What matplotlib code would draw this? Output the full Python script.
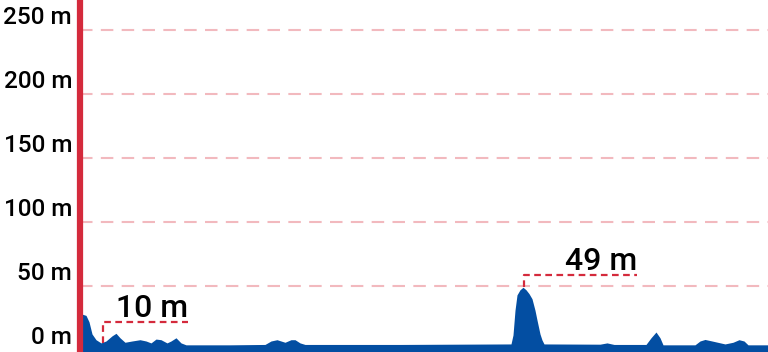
import matplotlib.pyplot as plt
from matplotlib import transforms

# elevation profile (distance in km, elevation in m)
distance = [0.0, 0.1, 0.3, 0.45, 0.6, 0.8, 1.05, 1.3, 1.6, 1.8, 2.0, 2.25, 2.6, 3.0,
            3.3, 3.55, 3.8, 4.05, 4.35, 4.55, 4.8, 5.05, 5.3, 7.5, 9.25, 9.55, 9.85,
            10.25, 10.55, 10.75, 11.0, 11.25, 16.0, 21.55, 21.65, 21.75, 21.85, 22.0,
            22.15, 22.3, 22.45, 22.6, 22.75, 22.85, 23.0, 23.1, 23.2, 26.0, 26.35,
            26.7, 28.3, 28.55, 28.8, 29.0, 29.15, 30.75, 31.0, 31.25, 31.6, 32.25,
            32.65, 32.95, 33.2, 33.4, 34.4]
elevation = [28, 28, 27, 22, 12.5, 8, 5.5, 7, 11, 13, 9.5, 6, 7, 8,
             7, 5.5, 8.5, 8, 5.5, 7, 9.5, 5.5, 4, 4, 4.3, 7, 8,
             6, 8, 8, 5.5, 4.3, 4.3, 4.7, 11.7, 31, 43, 47,
             49, 47, 44, 40, 31, 23.4, 12.5, 7.8, 4.7, 4.5, 5.5,
             4.3, 4.3, 9.5, 14, 9.5, 4, 4, 7, 8.2, 7, 4.7,
             6, 8, 7, 4, 4]

grid_values = [0, 50, 100, 150, 200, 250]
grid_labels = ['0 m', '50 m', '100 m', '150 m', '200 m', '250 m']

# annotated points: (distance, elevation, label distance end, label elevation)
min_point = (1.15, 5.5, 5.4, 21.9, '10 m')
max_point = (22.2, 49, 27.85, 58.6, '49 m')

blue = '#034ea2'
red = '#d42a3c'
pink = '#f2b9be'

plt.rcParams['font.family'] = ['Roboto', 'DejaVu Sans']

fig = plt.figure(figsize=(7.68, 3.52), dpi=100)
ax = fig.add_axes([80 / 768, 0, 688 / 768, 1])
ax.set_xlim(0, 34.4)
ax.set_ylim(-1.6, 273.4)

for v in grid_values[1:]:
    ax.axhline(v, color=pink, lw=1.5, dashes=(6, 4), zorder=1)

ax.fill_between(distance, elevation, -5, color=blue, lw=0, zorder=2)

# tick labels sit above their gridlines, left of the red axis line
trans = transforms.blended_transform_factory(fig.transFigure, ax.transData)
for v, lab in zip(grid_values, grid_labels):
    ax.text(72 / 768, v + 5, lab, transform=trans, ha='right', va='baseline',
            fontsize=17.5, fontweight='medium', color='black', clip_on=False)

for x0, y0, x1, y1, lab in (min_point, max_point):
    ax.plot([x0, x0, x1], [y0, y1, y1], color=red, lw=1.6, dashes=(3, 2), zorder=3)
    ax.text(x1, y1 + 4, lab, ha='right', va='baseline', fontsize=23,
            fontweight='medium', color='black', zorder=4)

ax.axvline(0, color=red, lw=4.5, zorder=5, clip_on=False)

for s in ax.spines.values():
    s.set_visible(False)
ax.set_xticks([])
ax.set_yticks([])

fig.savefig('out.png', dpi=100)
